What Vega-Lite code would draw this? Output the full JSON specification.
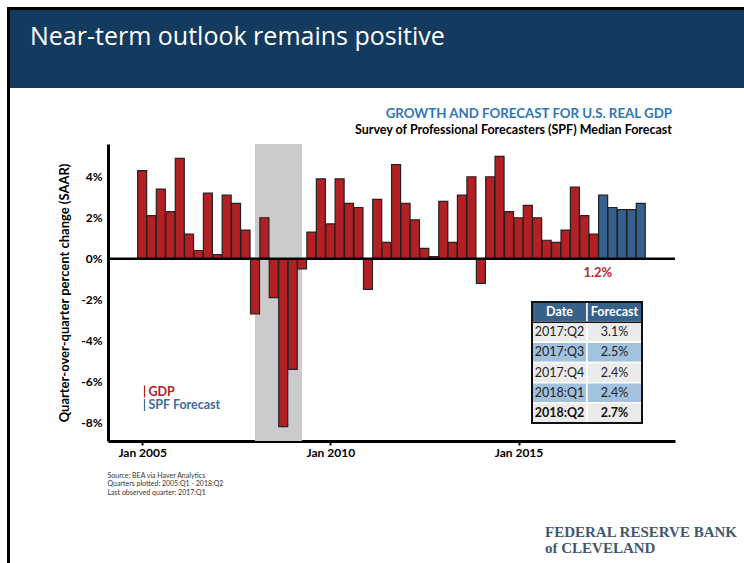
{
  "$schema": "https://vega.github.io/schema/vega-lite/v6.json",
  "width": 567,
  "height": 297,
  "autosize": {"type": "none"},
  "padding": {"left": 108, "top": 144, "right": 69, "bottom": 122},
  "background": "white",
  "config": {"view": {"stroke": null}, "font": "Lato"},
  "datasets": {
    "gdp": [
      {"date": "2005-01-01", "value": 4.3, "series": "GDP"},
      {"date": "2005-04-01", "value": 2.1, "series": "GDP"},
      {"date": "2005-07-01", "value": 3.4, "series": "GDP"},
      {"date": "2005-10-01", "value": 2.3, "series": "GDP"},
      {"date": "2006-01-01", "value": 4.9, "series": "GDP"},
      {"date": "2006-04-01", "value": 1.2, "series": "GDP"},
      {"date": "2006-07-01", "value": 0.4, "series": "GDP"},
      {"date": "2006-10-01", "value": 3.2, "series": "GDP"},
      {"date": "2007-01-01", "value": 0.2, "series": "GDP"},
      {"date": "2007-04-01", "value": 3.1, "series": "GDP"},
      {"date": "2007-07-01", "value": 2.7, "series": "GDP"},
      {"date": "2007-10-01", "value": 1.4, "series": "GDP"},
      {"date": "2008-01-01", "value": -2.7, "series": "GDP"},
      {"date": "2008-04-01", "value": 2.0, "series": "GDP"},
      {"date": "2008-07-01", "value": -1.9, "series": "GDP"},
      {"date": "2008-10-01", "value": -8.2, "series": "GDP"},
      {"date": "2009-01-01", "value": -5.4, "series": "GDP"},
      {"date": "2009-04-01", "value": -0.5, "series": "GDP"},
      {"date": "2009-07-01", "value": 1.3, "series": "GDP"},
      {"date": "2009-10-01", "value": 3.9, "series": "GDP"},
      {"date": "2010-01-01", "value": 1.7, "series": "GDP"},
      {"date": "2010-04-01", "value": 3.9, "series": "GDP"},
      {"date": "2010-07-01", "value": 2.7, "series": "GDP"},
      {"date": "2010-10-01", "value": 2.5, "series": "GDP"},
      {"date": "2011-01-01", "value": -1.5, "series": "GDP"},
      {"date": "2011-04-01", "value": 2.9, "series": "GDP"},
      {"date": "2011-07-01", "value": 0.8, "series": "GDP"},
      {"date": "2011-10-01", "value": 4.6, "series": "GDP"},
      {"date": "2012-01-01", "value": 2.7, "series": "GDP"},
      {"date": "2012-04-01", "value": 1.9, "series": "GDP"},
      {"date": "2012-07-01", "value": 0.5, "series": "GDP"},
      {"date": "2012-10-01", "value": 0.1, "series": "GDP"},
      {"date": "2013-01-01", "value": 2.8, "series": "GDP"},
      {"date": "2013-04-01", "value": 0.8, "series": "GDP"},
      {"date": "2013-07-01", "value": 3.1, "series": "GDP"},
      {"date": "2013-10-01", "value": 4.0, "series": "GDP"},
      {"date": "2014-01-01", "value": -1.2, "series": "GDP"},
      {"date": "2014-04-01", "value": 4.0, "series": "GDP"},
      {"date": "2014-07-01", "value": 5.0, "series": "GDP"},
      {"date": "2014-10-01", "value": 2.3, "series": "GDP"},
      {"date": "2015-01-01", "value": 2.0, "series": "GDP"},
      {"date": "2015-04-01", "value": 2.6, "series": "GDP"},
      {"date": "2015-07-01", "value": 2.0, "series": "GDP"},
      {"date": "2015-10-01", "value": 0.9, "series": "GDP"},
      {"date": "2016-01-01", "value": 0.8, "series": "GDP"},
      {"date": "2016-04-01", "value": 1.4, "series": "GDP"},
      {"date": "2016-07-01", "value": 3.5, "series": "GDP"},
      {"date": "2016-10-01", "value": 2.1, "series": "GDP"},
      {"date": "2017-01-01", "value": 1.2, "series": "GDP"},
      {"date": "2017-04-01", "value": 3.1, "series": "SPF Forecast"},
      {"date": "2017-07-01", "value": 2.5, "series": "SPF Forecast"},
      {"date": "2017-10-01", "value": 2.4, "series": "SPF Forecast"},
      {"date": "2018-01-01", "value": 2.4, "series": "SPF Forecast"},
      {"date": "2018-04-01", "value": 2.7, "series": "SPF Forecast"}
    ],
    "recession": [{"start": "2008-01-01", "end": "2009-04-01"}],
    "annot": [{"date": "2017-01-01", "label": "1.2%"}],
    "table": [
      {"row": "h", "col": "Date", "text": "Date"},
      {"row": "h", "col": "Forecast", "text": "Forecast"},
      {"row": "2017:Q2", "col": "Date", "text": "2017:Q2"},
      {"row": "2017:Q2", "col": "Forecast", "text": "3.1%"},
      {"row": "2017:Q3", "col": "Date", "text": "2017:Q3"},
      {"row": "2017:Q3", "col": "Forecast", "text": "2.5%"},
      {"row": "2017:Q4", "col": "Date", "text": "2017:Q4"},
      {"row": "2017:Q4", "col": "Forecast", "text": "2.4%"},
      {"row": "2018:Q1", "col": "Date", "text": "2018:Q1"},
      {"row": "2018:Q1", "col": "Forecast", "text": "2.4%"},
      {"row": "2018:Q2", "col": "Date", "text": "2018:Q2"},
      {"row": "2018:Q2", "col": "Forecast", "text": "2.7%"}
    ]
  },
  "resolve": {"scale": {"x": "independent", "y": "independent"}},
  "layer": [
    {
      "data": {"values": [{"slot": "banner", "heading": "Near-term outlook remains positive"}]},
      "encoding": {
        "x": {"field": "slot", "type": "nominal", "axis": null, "scale": {"type": "band", "range": [-98, 640], "paddingInner": 0, "paddingOuter": 0}},
        "y": {"field": "slot", "type": "nominal", "axis": null, "scale": {"type": "band", "range": [-134, -56], "paddingInner": 0, "paddingOuter": 0}}
      },
      "layer": [
        {"mark": {"type": "rect", "fill": "#133b60"}},
        {
          "mark": {"type": "text", "align": "left", "baseline": "alphabetic", "dx": 20, "dy": 35, "fontSize": 25, "color": "white", "font": "Open Sans"},
          "encoding": {
            "x": {"field": "slot", "type": "nominal", "bandPosition": 0, "axis": null},
            "y": {"field": "slot", "type": "nominal", "bandPosition": 0, "axis": null},
            "text": {"field": "heading"}
          }
        }
      ]
    },
    {
      "data": {"values": [{"slot": "frame"}]},
      "mark": {"type": "rect", "fill": "transparent", "stroke": "black", "strokeWidth": 3},
      "encoding": {
        "x": {"field": "slot", "type": "nominal", "axis": null, "scale": {"type": "band", "range": [-99.5, 660], "paddingInner": 0, "paddingOuter": 0}},
        "y": {"field": "slot", "type": "nominal", "axis": null, "scale": {"type": "band", "range": [-135.5, 440], "paddingInner": 0, "paddingOuter": 0}}
      }
    },
    {
      "data": {"values": [
        {"slot": "title", "line": "GROWTH AND FORECAST FOR U.S. REAL GDP"},
        {"slot": "title", "line": "Survey of Professional Forecasters (SPF) Median Forecast"}
      ]},
      "mark": {"type": "text", "align": "right", "baseline": "middle", "fontWeight": "bold", "dx": -3},
      "encoding": {
        "x": {"field": "slot", "type": "nominal", "bandPosition": 1, "axis": null, "scale": {"type": "band", "range": [0, 567], "paddingInner": 0, "paddingOuter": 0}},
        "y": {"field": "line", "type": "nominal", "sort": null, "axis": null, "scale": {"type": "band", "range": [-38, -6], "paddingInner": 0, "paddingOuter": 0}},
        "text": {"field": "line"},
        "color": {"condition": {"test": "datum.line === 'GROWTH AND FORECAST FOR U.S. REAL GDP'", "value": "#2f76b3"}, "value": "black"},
        "size": {"condition": {"test": "datum.line === 'GROWTH AND FORECAST FOR U.S. REAL GDP'", "value": 13.3}, "value": 12.5}
      }
    },
    {
      "layer": [
        {
          "data": {"name": "recession"},
          "mark": {"type": "rect", "color": "#cbcbcb"},
          "encoding": {
            "x": {"field": "start", "type": "temporal"},
            "x2": {"field": "end"}
          }
        },
        {
          "data": {"name": "gdp"},
          "mark": {"type": "bar", "width": 9, "stroke": "#222222", "strokeWidth": 1.2},
          "encoding": {
            "x": {
              "field": "date", "type": "temporal",
              "scale": {"type": "utc", "domain": [{"year": 2004, "month": 3, "date": 24, "utc": true}, {"year": 2019, "month": 1, "date": 10, "utc": true}]},
              "axis": {
                "values": [{"year": 2005, "month": 1, "date": 1, "utc": true}, {"year": 2010, "month": 1, "date": 1, "utc": true}, {"year": 2015, "month": 1, "date": 1, "utc": true}],
                "format": "%b %Y",
                "labelFontWeight": "bold", "labelFontSize": 12, "labelColor": "black", "labelPadding": 2,
                "labelFlush": false, "labelOverlap": false,
                "tickColor": "black", "tickWidth": 2, "tickSize": 4,
                "domainColor": "black", "domainWidth": 3, "gridColor": "#e6e6e6",
                "title": ["Source: BEA via Haver Analytics", "Quarters plotted: 2005:Q1 - 2018:Q2", "Last observed quarter: 2017:Q1"],
                "titleFontSize": 7, "titleFontWeight": "normal", "titleColor": "#333333",
                "titleAnchor": "start", "titleAlign": "left", "titleX": -1, "titleY": 30, "titleBaseline": "top", "titleLineHeight": 8.5
              }
            },
            "y": {
              "field": "value", "type": "quantitative",
              "scale": {"domain": [-8.9, 5.6], "nice": false, "zero": false},
              "axis": {
                "values": [-8, -6, -4, -2, 0, 2, 4],
                "labelExpr": "datum.value + '%'",
                "labelFontWeight": "bold", "labelFontSize": 12, "labelColor": "black", "labelPadding": 6,
                "ticks": false, "domainColor": "black", "domainWidth": 3, "gridColor": "#e6e6e6",
                "title": "Quarter-over-quarter percent change (SAAR)",
                "titleFontSize": 13, "titleFontWeight": "bold", "titleColor": "black", "titlePadding": 9
              }
            },
            "color": {
              "field": "series", "type": "nominal",
              "scale": {"domain": ["GDP", "SPF Forecast"], "range": ["#b22024", "#34618e"]},
              "legend": {
                "orient": "none", "legendX": 29.5, "legendY": 241, "title": null, "padding": 0,
                "symbolType": "M0,-1L0,1", "symbolSize": 144, "symbolStrokeWidth": 1.2, "labelOffset": -3,
                "symbolStrokeColor": {"expr": "datum.value === 'GDP' ? '#b22024' : '#3d6c9c'"},
                "labelColor": {"expr": "datum.value === 'GDP' ? '#b22024' : '#3d6c9c'"},
                "labelFont": "Lato", "labelFontSize": 12.5, "labelFontWeight": "bold",
                "clipHeight": 13, "rowPadding": 0.5
              }
            }
          }
        },
        {
          "data": {"values": [{}]},
          "mark": {"type": "rule", "color": "black", "strokeWidth": 2.5},
          "encoding": {"y": {"datum": 0}}
        },
        {
          "data": {"name": "annot"},
          "mark": {"type": "text", "fontWeight": "bold", "fontSize": 13, "color": "#b8282c", "dy": 14, "dx": 4, "baseline": "middle"},
          "encoding": {
            "x": {"field": "date", "type": "temporal"},
            "y": {"datum": 0},
            "text": {"field": "label"}
          }
        }
      ]
    },
    {
      "data": {"name": "table"},
      "encoding": {
        "x": {"field": "col", "type": "nominal", "axis": null, "scale": {"type": "band", "domain": ["Date", "Forecast"], "range": [424, 534], "paddingInner": 0, "paddingOuter": 0}},
        "y": {"field": "row", "type": "nominal", "axis": null, "scale": {"type": "band", "domain": ["h", "2017:Q2", "2017:Q3", "2017:Q4", "2018:Q1", "2018:Q2"], "range": [158, 279], "paddingInner": 0, "paddingOuter": 0}}
      },
      "layer": [
        {
          "mark": {"type": "rect", "stroke": "white", "strokeWidth": 1.5},
          "encoding": {
            "color": {
              "condition": [
                {"test": "datum.row === 'h'", "value": "#35618b"},
                {"test": "datum.row === '2017:Q3' || datum.row === '2018:Q1'", "value": "#a2c1de"}
              ],
              "value": "#ebebeb"
            }
          }
        },
        {
          "transform": [{"filter": "datum.row !== 'h' && datum.row !== '2018:Q2'"}],
          "mark": {"type": "text", "fontSize": 12.5, "color": "#222222", "baseline": "middle"},
          "encoding": {"text": {"field": "text"}}
        },
        {
          "transform": [{"filter": "datum.row === 'h' || datum.row === '2018:Q2'"}],
          "mark": {"type": "text", "fontSize": 12.5, "fontWeight": "bold", "baseline": "middle"},
          "encoding": {
            "text": {"field": "text"},
            "color": {"condition": {"test": "datum.row === 'h'", "value": "white"}, "value": "#111111"}
          }
        }
      ]
    },
    {
      "data": {"values": [{"slot": "tbl"}]},
      "mark": {"type": "rect", "fill": "transparent", "stroke": "#111111", "strokeWidth": 2},
      "encoding": {
        "x": {"field": "slot", "type": "nominal", "axis": null, "scale": {"type": "band", "range": [424, 534], "paddingInner": 0, "paddingOuter": 0}},
        "y": {"field": "slot", "type": "nominal", "axis": null, "scale": {"type": "band", "range": [158, 279], "paddingInner": 0, "paddingOuter": 0}}
      }
    },
    {
      "data": {"values": [{"slot": "hdr"}]},
      "mark": {"type": "rect", "fill": "transparent", "stroke": "#111111", "strokeWidth": 1.5},
      "encoding": {
        "x": {"field": "slot", "type": "nominal", "axis": null, "scale": {"type": "band", "range": [424, 534], "paddingInner": 0, "paddingOuter": 0}},
        "y": {"field": "slot", "type": "nominal", "axis": null, "scale": {"type": "band", "range": [158, 178.2], "paddingInner": 0, "paddingOuter": 0}}
      }
    },
    {
      "data": {"values": [
        {"slot": "logo", "line": "FEDERAL RESERVE BANK"},
        {"slot": "logo", "line": "of CLEVELAND"}
      ]},
      "mark": {"type": "text", "align": "left", "baseline": "middle", "font": "Liberation Serif", "fontWeight": "bold", "fontSize": 15, "color": "#3f5872"},
      "encoding": {
        "x": {"field": "slot", "type": "nominal", "bandPosition": 0, "axis": null, "scale": {"type": "band", "range": [437, 627], "paddingInner": 0, "paddingOuter": 0}},
        "y": {"field": "line", "type": "nominal", "sort": null, "axis": null, "scale": {"type": "band", "range": [380, 412], "paddingInner": 0, "paddingOuter": 0}},
        "text": {"field": "line"}
      }
    }
  ]
}
